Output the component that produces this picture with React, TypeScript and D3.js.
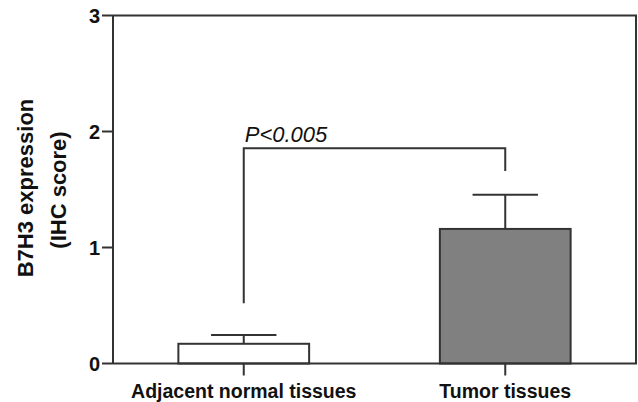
import React from "react";
import * as d3 from "d3";

const categories = ["Adjacent normal tissues", "Tumor tissues"];
const means = [0.17, 1.16];
const errors = [0.075, 0.295];
const fills = ["#ffffff", "#808080"];
const yTicks = [0, 1, 2, 3];
const yLabelLines = ["B7H3 expression", "(IHC score)"];
const pText = "P<0.005";
const bracketTop = 1.855;
const bracketLeftBottom = 0.52;
const bracketRightBottom = 1.66;

const W = 638;
const H = 402;
const left = 113;
const right = 636;
const top = 15.5;
const bottom = 363.5;
const stroke = "#333";
const font = "'Liberation Sans', Arial, Helvetica, sans-serif";

export default function App() {
  const x = d3.scaleBand<string>().domain(categories).range([left, right]).paddingInner(0.5).paddingOuter(0.25);
  const y = d3.scaleLinear().domain([0, 3]).range([bottom, top]);
  const cx = (c: string) => (x(c) as number) + x.bandwidth() / 2;
  const capW = x.bandwidth() * 0.5;
  const c0 = cx(categories[0]);
  const c1 = cx(categories[1]);
  const bracketPath = d3.path();
  bracketPath.moveTo(c0, y(bracketLeftBottom));
  bracketPath.lineTo(c0, y(bracketTop));
  bracketPath.lineTo(c1, y(bracketTop));
  bracketPath.lineTo(c1, y(bracketRightBottom));

  return (
    <svg width={W} height={H} style={{ position: "absolute", left: 0, top: 0, background: "#fff" }} fontFamily={font}>
      {categories.map((c, i) => (
        <g key={c}>
          <line x1={cx(c)} x2={cx(c)} y1={y(means[i])} y2={y(means[i] + errors[i])} stroke={stroke} strokeWidth={2} />
          <line x1={cx(c) - capW / 2} x2={cx(c) + capW / 2} y1={y(means[i] + errors[i])} y2={y(means[i] + errors[i])} stroke={stroke} strokeWidth={2} />
          <rect x={x(c)} y={y(means[i])} width={x.bandwidth()} height={y(0) - y(means[i])} fill={fills[i]} stroke={stroke} strokeWidth={2} />
        </g>
      ))}
      <line x1={left} x2={left} y1={y(3)} y2={y(0)} stroke={stroke} strokeWidth={2} />
      <line x1={right} x2={right} y1={y(3)} y2={y(0)} stroke={stroke} strokeWidth={2} />
      <line x1={left} x2={right + 1} y1={y(3)} y2={y(3)} stroke={stroke} strokeWidth={2} />
      <line x1={left} x2={right + 1} y1={y(0)} y2={y(0)} stroke={stroke} strokeWidth={2} />
      {yTicks.map((t) => (
        <g key={t}>
          <line x1={left - 11} x2={left} y1={y(t)} y2={y(t)} stroke={stroke} strokeWidth={2} />
          <text x={left - 13} y={y(t)} dy="0.36em" textAnchor="end" fontSize={20} fontWeight="bold" fill="#111">
            {t}
          </text>
        </g>
      ))}
      {categories.map((c) => (
        <g key={"xt" + c}>
          <line x1={cx(c)} x2={cx(c)} y1={y(0)} y2={y(0) + 12} stroke={stroke} strokeWidth={2} />
          <text x={cx(c)} y={398} textAnchor="middle" fontSize={19.5} fontWeight="bold" fill="#111">
            {c}
          </text>
        </g>
      ))}
      <text transform={`translate(32.5,188) rotate(-90)`} textAnchor="middle" fontSize={22} fontWeight="bold" fill="#111">
        {yLabelLines[0]}
      </text>
      <text transform={`translate(66,190) rotate(-90)`} textAnchor="middle" fontSize={22} fontWeight="bold" fill="#111">
        {yLabelLines[1]}
      </text>
      <path d={bracketPath.toString()} fill="none" stroke={stroke} strokeWidth={2} />
      <text x={c0 + 1} y={y(bracketTop) - 6} fontSize={22} fontStyle="italic" fill="#111">
        {pText}
      </text>
    </svg>
  );
}
